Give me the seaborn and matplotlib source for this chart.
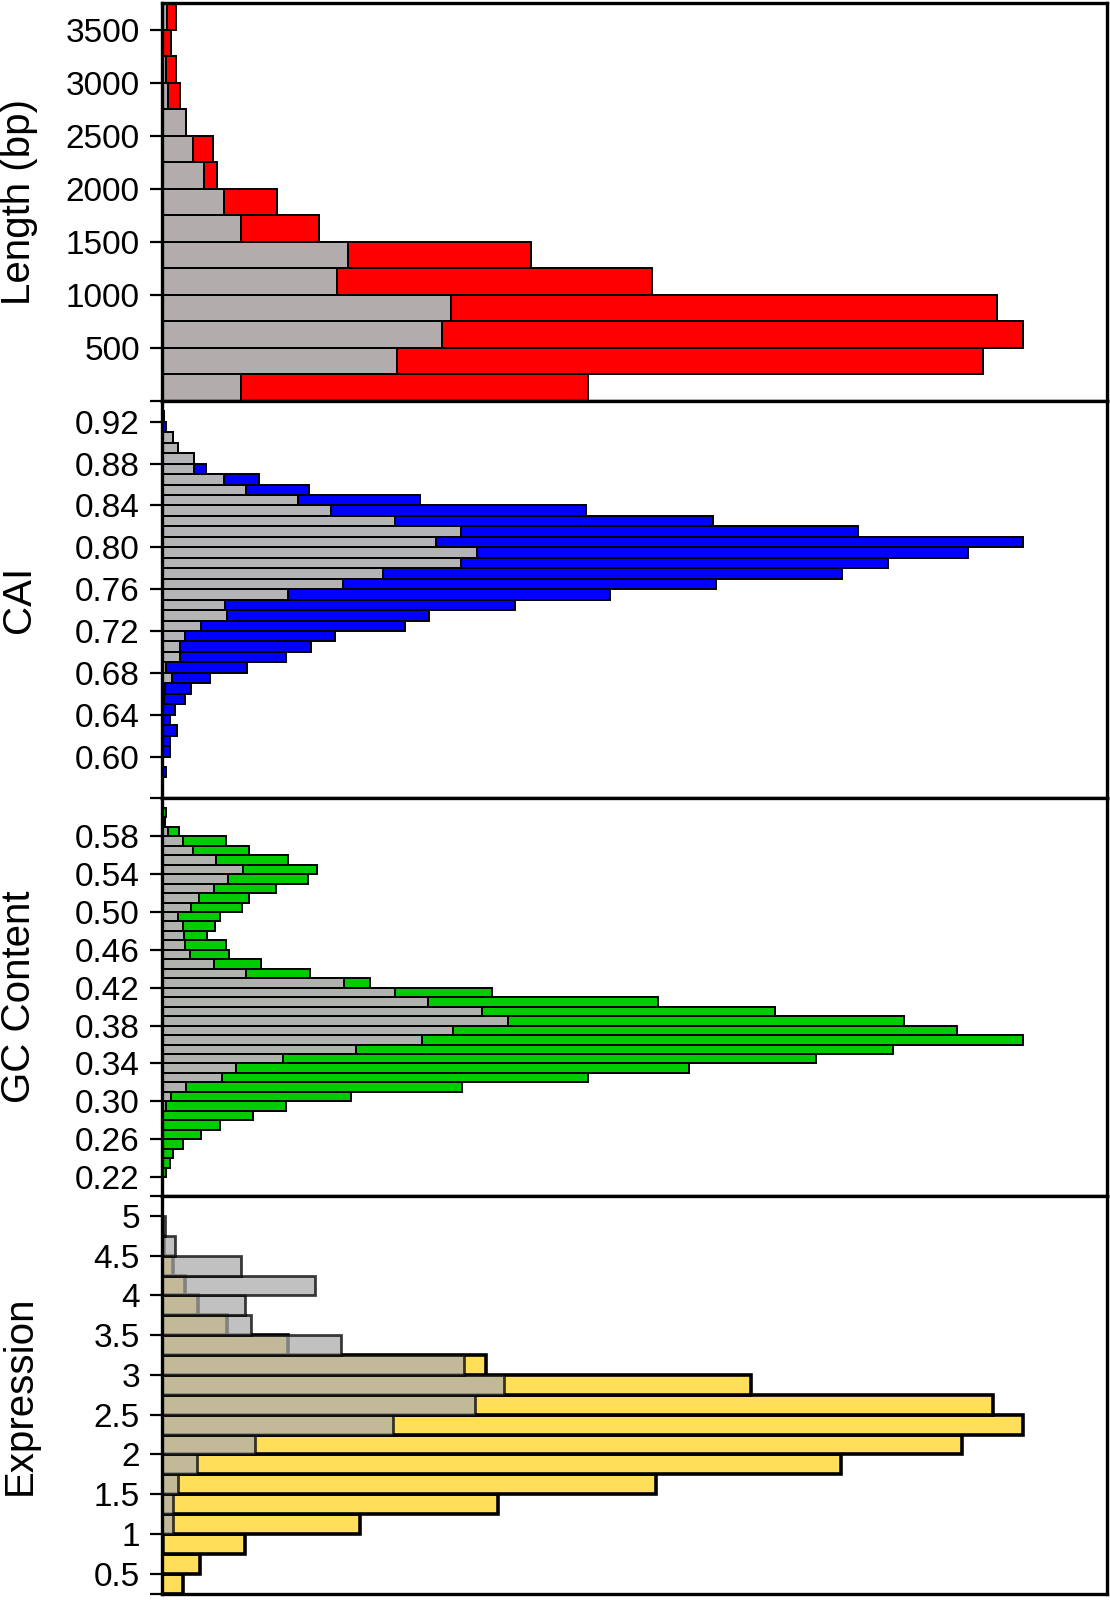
import numpy as np
import pandas as pd
import matplotlib
matplotlib.use('Agg')
import matplotlib.pyplot as plt
import seaborn as sns

sns.set_style('white')
plt.rcParams['font.family'] = ['Liberation Sans', 'DejaVu Sans']
plt.rcParams['text.color'] = 'black'
plt.rcParams['axes.labelcolor'] = 'black'
plt.rcParams['ytick.color'] = 'black'

# ---- data: lower bin edges, all genes (colour) and subset (grey), counts in arbitrary units ----
length_bins = np.arange(0, 3750, 250)
length_all = [426, 821, 861, 835, 490, 369, 157, 115, 55, 51, 24, 18, 14, 9, 14]
length_sub = [79, 235, 280, 289, 175, 186, 79, 62, 42, 31, 24, 5.5, 4, 0, 5]
length_ticks = [500, 1000, 1500, 2000, 2500, 3000, 3500]
length_labels = ['500', '1000', '1500', '2000', '2500', '3000', '3500']

cai_bins = np.round(np.arange(0.58, 0.925, 0.01), 2)
cai_all = [3.5, 0, 8, 8, 15, 8, 13, 23, 29, 48, 85, 124, 149, 173, 243, 267, 353, 448,
           554, 680, 726, 806, 861, 696, 551, 424, 258, 147, 97, 44, 32, 16, 11, 3.5, 1.5]
cai_sub = [0, 0, 0, 0, 0, 0, 0, 2, 3, 10, 4, 18, 18, 23, 39, 65, 63, 126,
           181, 221, 299, 315, 274, 299, 233, 169, 136, 84, 62, 32, 32, 16, 11, 1, 0]
cai_ticks = [0.60, 0.64, 0.68, 0.72, 0.76, 0.80, 0.84, 0.88, 0.92]
cai_labels = ['0.60', '0.64', '0.68', '0.72', '0.76', '0.80', '0.84', '0.88', '0.92']

gc_bins = np.round(np.arange(0.22, 0.605, 0.01), 2)
gc_all = [3.5, 8, 11, 21, 39, 58, 91, 124, 189, 300, 426, 527, 654, 731, 861, 795, 742, 613,
          496, 330, 208, 148, 99, 67, 64, 45, 53, 58, 80, 87, 114, 146, 155, 126, 87, 64, 17, 2.5, 3.5]
gc_sub = [0, 0, 0, 0, 0, 0, 1, 3.5, 8.5, 24, 60, 74, 121, 194, 260, 291, 346, 320,
          266, 233, 182, 84, 52, 28, 23, 22, 21, 16, 29, 37, 52, 66, 81, 54, 31, 21, 6, 2.5, 1]
gc_ticks = [0.22, 0.26, 0.30, 0.34, 0.38, 0.42, 0.46, 0.50, 0.54, 0.58]
gc_labels = ['0.22', '0.26', '0.30', '0.34', '0.38', '0.42', '0.46', '0.50', '0.54', '0.58']

expr_bins = np.arange(0.25, 5.2, 0.25)
expr_all = [21, 38, 83, 198, 336, 494, 679, 800, 861, 831, 589, 324, 126, 65, 36, 23, 11, 2, 0, 0]
expr_sub = [0, 0, 1, 11, 11, 16, 35, 93, 231, 313, 342, 302, 179, 89, 83, 153, 79, 13, 3, 0]
expr_ticks = [0.5, 1, 1.5, 2, 2.5, 3, 3.5, 4, 4.5, 5]
expr_labels = ['0.5', '1', '1.5', '2', '2.5', '3', '3.5', '4', '4.5', '5']

fig, axes = plt.subplots(4, 1, figsize=(11.1, 16), dpi=100)
fig.subplots_adjust(left=0.146, right=0.997, top=0.998, bottom=0.004, hspace=0)


def panel(ax, lows, width, total, sub, color, grey, label, ylim, ticks, labels,
          lw=1.4, sub_lw=1.4, sub_alpha=1.0, sub_edge='black'):
    lows = np.asarray(lows, dtype=float)
    edges = list(np.append(lows, lows[-1] + width))
    df = pd.DataFrame({'value': lows + width / 2, 'total': total, 'sub': sub})
    sns.histplot(data=df, y='value', weights='total', bins=edges, color=color, alpha=1,
                 edgecolor='black', linewidth=lw, ax=ax)
    sns.histplot(data=df, y='value', weights='sub', bins=edges, color=grey, alpha=sub_alpha,
                 edgecolor=sub_edge, linewidth=sub_lw, ax=ax)
    ax.set_xlim(0, 945)
    ax.set_ylim(*ylim)
    ax.set_xticks([])
    ax.set_xlabel('')
    ax.set_yticks(ticks)
    ax.set_yticklabels(labels)
    ax.set_yticks([ylim[0]], minor=True)
    ax.tick_params(axis='y', which='both', left=True, direction='out', length=9,
                   width=1.6, color='black', labelcolor='black', labelsize=24, pad=7)
    ax.set_ylabel(label, fontsize=29, color='black')
    ax.yaxis.set_label_coords(-0.131, 0.5)
    for s in ax.spines.values():
        s.set_visible(True)
        s.set_color('black')
        s.set_linewidth(2.4)


panel(axes[0], length_bins, 250, length_all, length_sub, '#FF0000', '#B2ACAC',
      'Length (bp)', (0, 3750), length_ticks, length_labels)
panel(axes[1], cai_bins, 0.01, cai_all, cai_sub, '#0000FF', '#B4B4B6',
      'CAI', (0.56, 0.94), cai_ticks, cai_labels)
panel(axes[2], gc_bins, 0.01, gc_all, gc_sub, '#00CC00', '#B0B2AE',
      'GC Content', (0.20, 0.62), gc_ticks, gc_labels)
panel(axes[3], expr_bins, 0.25, expr_all, expr_sub, '#FFDE59', '#ADADAD',
      'Expression', (0.25, 5.25), expr_ticks, expr_labels,
      lw=2.6, sub_lw=2.0, sub_alpha=0.75, sub_edge=(0, 0, 0, 0.75))

fig.savefig('out.png', dpi=100)
